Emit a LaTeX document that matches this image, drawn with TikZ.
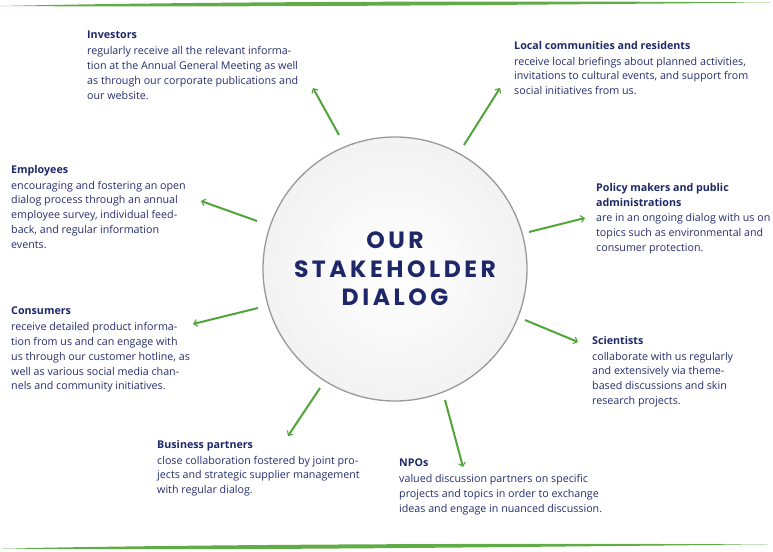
\documentclass[tikz,border=0pt]{standalone}
\usepackage{fontspec}
\setmainfont{Open Sans}
\newfontfamily\titlefont[LetterSpace=15]{Poppins}
\usetikzlibrary{arrows.meta}
\definecolor{navy}{RGB}{30,40,105}
\definecolor{bodynavy}{RGB}{38,46,110}
\definecolor{leaf}{RGB}{80,164,58}
\definecolor{stripe}{RGB}{98,172,72}
\tikzset{
  info/.style={anchor=north west, inner sep=0pt, align=left, text=bodynavy,
    font={\fontsize{10.7}{14.8}\selectfont}},
  arr/.style={draw=leaf, line width=2pt,
    -{Straight Barb[length=3.5pt,width=7pt,line width=1.1pt]}},
  hub/.style={circle, minimum size=264pt, draw=gray!80, line width=1.3pt,
    inner color=white, outer color=gray!10, align=center, text=navy,
    font={\titlefont\bfseries\fontsize{23.5}{28.5}\selectfont}}
}
\newcommand{\ttl}[1]{{\bfseries\color{navy}#1}}
\begin{document}
\begin{tikzpicture}[x=1pt,y=-1pt]
\useasboundingbox (0,0) rectangle (773,551);
% green brush stripes
\fill[stripe] (0,6) .. controls (200,1.5) and (520,0.5) .. (770,2.5)
  .. controls (560,4.5) and (250,7.5) .. (0,6) -- cycle;
\fill[stripe] (2,548.5) .. controls (230,544) and (540,543) .. (768,544.5)
  .. controls (540,546.5) and (220,551) .. (2,548.5) -- cycle;
% hub
\node[hub] (c) at (395,269) {OUR\\STAKEHOLDER\\DIALOG};
% text blocks
\node[info] (inv) at (87,31) {\ttl{Investors}\\[1pt]
regularly receive all the relevant informa-\\
tion at the Annual General Meeting as well\\
as through our corporate publications and\\
our website.};
\node[info] (loc) at (514,41) {\ttl{Local communities and residents}\\[1pt]
receive local briefings about planned activities,\\
invitations to cultural events, and support from\\
social initiatives from us.};
\node[info] (emp) at (11,165) {\ttl{Employees}\\[1pt]
encouraging and fostering an open\\
dialog process through an annual\\
employee survey, individual feed-\\
back, and regular information\\
events.};
\node[info] (pol) at (596,183) {\ttl{Policy makers and public}\\
\ttl{administrations}\\[1pt]
are in an ongoing dialog with us on\\
topics such as environmental and\\
consumer protection.};
\node[info] (con) at (11,307) {\ttl{Consumers}\\[1pt]
receive detailed product informa-\\
tion from us and can engage with\\
us through our customer hotline, as\\
well as various social media chan-\\
nels and community initiatives.};
\node[info] (sci) at (592,336) {\ttl{Scientists}\\[1pt]
collaborate with us regularly\\
and extensively via theme-\\
based discussions and skin\\
research projects.};
\node[info] (bus) at (157,440) {\ttl{Business partners}\\[1pt]
close collaboration fostered by joint pro-\\
jects and strategic supplier management\\
with regular dialog.};
\node[info] (npo) at (399,459) {\ttl{NPOs}\\[1pt]
valued discussion partners on specific\\
projects and topics in order to exchange\\
ideas and engage in nuanced discussion.};
% arrow ends
\coordinate (t1) at (339,135); \coordinate (h1) at (313,88);
\coordinate (t2) at (464,145); \coordinate (h2) at (500,88);
\coordinate (t3) at (257,221); \coordinate (h3) at (201,201);
\coordinate (t4) at (529,232); \coordinate (h4) at (585,218);
\coordinate (t5) at (258,308); \coordinate (h5) at (193,324);
\coordinate (t6) at (525,320); \coordinate (h6) at (578,342);
\coordinate (t7) at (320,388); \coordinate (h7) at (288,436);
\coordinate (t8) at (445,400); \coordinate (h8) at (463,467);
\foreach \i in {1,...,8} {\draw[arr] (t\i) -- (h\i);}
\end{tikzpicture}
\end{document}
